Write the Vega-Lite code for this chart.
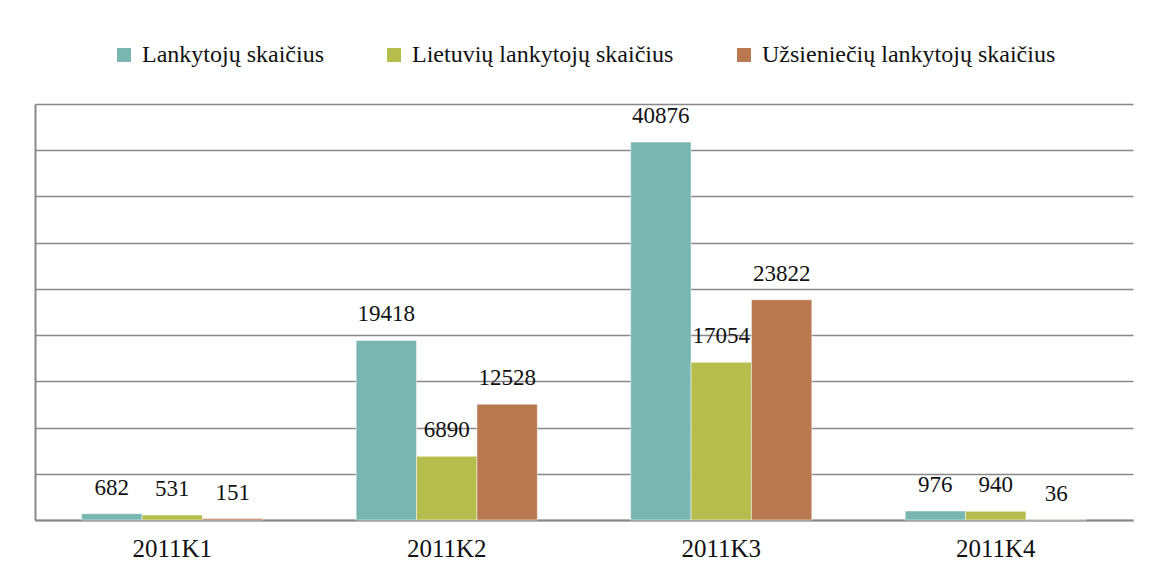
{
  "$schema": "https://vega.github.io/schema/vega-lite/v6.json",
  "width": 1098,
  "height": 416,
  "autosize": {"type": "none"},
  "padding": {"left": 35, "top": 104, "right": 18, "bottom": 54},
  "background": "white",
  "config": {
    "view": {"stroke": null},
    "font": "Liberation Serif",
    "legend": {"labelFont": "Liberation Serif", "layout": {"top": {"anchor": "middle"}}}
  },
  "data": {
    "values": [
      {"k": "2011K1", "s": "Lankytojų skaičius", "v": 682},
      {"k": "2011K1", "s": "Lietuvių lankytojų skaičius", "v": 531},
      {"k": "2011K1", "s": "Užsieniečių lankytojų skaičius", "v": 151},
      {"k": "2011K2", "s": "Lankytojų skaičius", "v": 19418},
      {"k": "2011K2", "s": "Lietuvių lankytojų skaičius", "v": 6890},
      {"k": "2011K2", "s": "Užsieniečių lankytojų skaičius", "v": 12528},
      {"k": "2011K3", "s": "Lankytojų skaičius", "v": 40876},
      {"k": "2011K3", "s": "Lietuvių lankytojų skaičius", "v": 17054},
      {"k": "2011K3", "s": "Užsieniečių lankytojų skaičius", "v": 23822},
      {"k": "2011K4", "s": "Lankytojų skaičius", "v": 976},
      {"k": "2011K4", "s": "Lietuvių lankytojų skaičius", "v": 940},
      {"k": "2011K4", "s": "Užsieniečių lankytojų skaičius", "v": 36}
    ]
  },
  "encoding": {
    "x": {
      "field": "k", "type": "nominal", "title": null,
      "scale": {"paddingInner": 0.34, "paddingOuter": 0.17},
      "axis": {
        "labelAngle": 0, "labelFontSize": 25, "labelColor": "#111", "labelFont": "Liberation Serif",
        "ticks": false, "labelPadding": 16, "domainColor": "#888", "domainWidth": 2
      }
    },
    "xOffset": {"field": "s", "type": "nominal", "sort": ["Lankytojų skaičius", "Lietuvių lankytojų skaičius", "Užsieniečių lankytojų skaičius"]},
    "y": {
      "field": "v", "type": "quantitative", "title": null,
      "scale": {"domain": [0, 45000], "nice": false},
      "axis": {
        "values": [0, 5000, 10000, 15000, 20000, 25000, 30000, 35000, 40000, 45000],
        "labels": false, "ticks": false, "domain": true, "domainColor": "#888", "domainWidth": 2,
        "grid": true, "gridColor": "#888", "gridWidth": 1.5
      }
    }
  },
  "layer": [
    {
      "mark": {"type": "bar", "stroke": "white", "strokeWidth": 0.5},
      "encoding": {
        "color": {
          "field": "s", "type": "nominal", "title": null,
          "sort": ["Lankytojų skaičius", "Lietuvių lankytojų skaičius", "Užsieniečių lankytojų skaičius"],
          "scale": {"range": ["#7AB6B1", "#B5BD4C", "#B87850"]},
          "legend": {
            "orient": "top", "direction": "horizontal", "offset": 37,
            "symbolType": "square", "symbolSize": 196, "symbolStrokeWidth": 0,
            "labelFontSize": 24, "labelFont": "Liberation Serif", "labelColor": "#111",
            "labelLimit": 400, "columnPadding": 58, "labelOffset": 6
          }
        }
      }
    },
    {
      "mark": {"type": "text", "baseline": "bottom", "dy": -14, "fontSize": 23, "color": "#111", "font": "Liberation Serif"},
      "encoding": {"text": {"field": "v", "type": "quantitative", "format": "d"}}
    }
  ]
}
